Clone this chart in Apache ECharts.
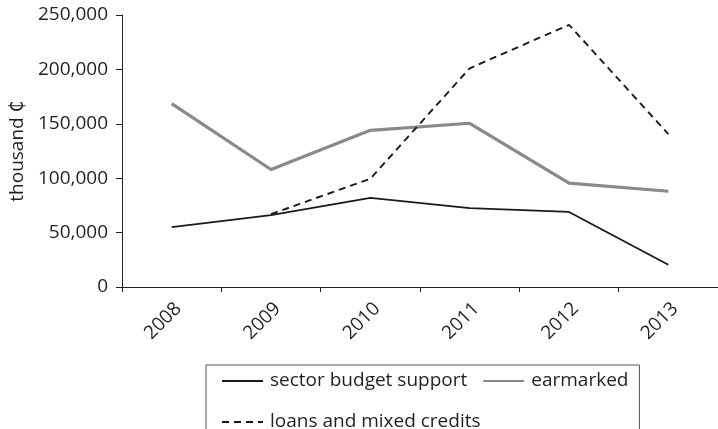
<!DOCTYPE html>
<html>
<head>
<meta charset="utf-8">
<script src="https://cdn.jsdelivr.net/npm/echarts@6/dist/echarts.min.js"></script>
<style>
html,body{margin:0;padding:0;background:#fff;}
#main{width:718px;height:429px;}
</style>
</head>
<body>
<div id="main"></div>
<script>
const years = ['2008', '2009', '2010', '2011', '2012', '2013'];
const sectorBudgetSupport = [55000, 66000, 82000, 72500, 69000, 20500];
const earmarked = [168500, 108000, 144000, 150500, 95500, 88000];
const loansAndMixedCredits = [null, 67000, 99500, 201000, 241000, 140500];
const yTicks = { min: 0, max: 250000, interval: 50000 };
const yAxisTitle = 'thousand ₵';

const font = '"Open Sans", "DejaVu Sans", sans-serif';
const txt = '#231f20';

const chart = echarts.init(document.getElementById('main'), null, { renderer: 'canvas' });
chart.setOption({
  animation: false,
  backgroundColor: '#fff',
  textStyle: { fontFamily: font },
  grid: { left: 122, top: 15, width: 600, height: 272, containLabel: false },
  legend: {
    left: 206, top: 365, width: 420,
    padding: [3, 11, 12, 15],
    borderColor: '#555', borderWidth: 1,
    itemWidth: 41, itemHeight: 14, itemGap: 15,
    itemStyle: { opacity: 0 },
    textStyle: { fontFamily: font, fontSize: 19, color: txt, lineHeight: 26, padding: [0, 0, 0, 2] },
    data: [
      { name: 'sector budget support' },
      { name: 'earmarked' },
      { name: 'loans and mixed credits' }
    ]
  },
  xAxis: {
    type: 'category',
    data: years,
    boundaryGap: true,
    axisLine: { lineStyle: { color: '#222', width: 1 } },
    axisTick: { show: true, length: 5, lineStyle: { color: '#222' } },
    axisLabel: { rotate: 45, margin: 12, verticalAlign: 'top', fontSize: 19, color: txt, fontFamily: font }
  },
  yAxis: {
    type: 'value',
    min: yTicks.min, max: yTicks.max, interval: yTicks.interval,
    name: yAxisTitle,
    nameLocation: 'middle',
    nameGap: 95,
    nameTextStyle: { fontSize: 19, color: txt, fontFamily: font },
    splitLine: { show: false },
    axisLine: { show: true, lineStyle: { color: '#222', width: 1 } },
    axisTick: { show: true, length: 6, lineStyle: { color: '#222' } },
    axisLabel: {
      margin: 14, fontSize: 19, color: txt, fontFamily: font,
      formatter: v => v.toLocaleString('en-US')
    }
  },
  series: [
    {
      name: 'sector budget support', type: 'line', data: sectorBudgetSupport,
      symbol: 'none', lineStyle: { color: '#1a1a1a', width: 1.8 }, itemStyle: { color: '#1a1a1a' }
    },
    {
      name: 'earmarked', type: 'line', data: earmarked,
      symbol: 'none', lineStyle: { color: '#8a8a8a', width: 3.2 }, itemStyle: { color: '#8a8a8a' }
    },
    {
      name: 'loans and mixed credits', type: 'line', data: loansAndMixedCredits,
      symbol: 'none', lineStyle: { color: '#1a1a1a', width: 1.9, type: [7, 5] }, itemStyle: { color: '#1a1a1a' }
    }
  ]
});
</script>
</body>
</html>
